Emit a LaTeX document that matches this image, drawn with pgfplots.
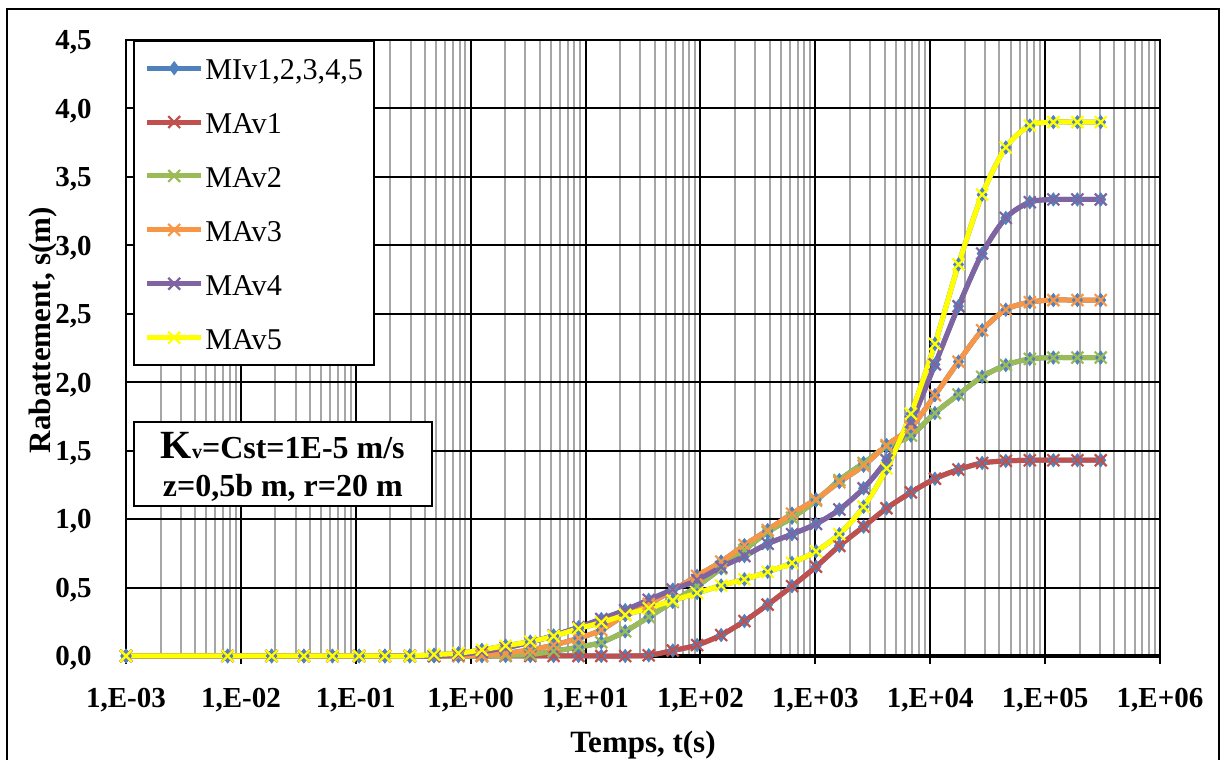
\documentclass[border=0pt]{standalone}
\usepackage{fontspec}
\setmainfont{Liberation Serif}
\usepackage{pgfplots}
\usepackage{pgfplotstable}
\pgfplotsset{compat=1.18}
\definecolor{cMI}{HTML}{4F81BD}
\definecolor{cA1}{HTML}{C0504D}
\definecolor{cA2}{HTML}{9BBB59}
\definecolor{cA3}{HTML}{F79646}
\definecolor{cA4}{HTML}{8064A2}
\definecolor{cA5}{HTML}{FFFF00}
\definecolor{cGrid}{HTML}{A6A6A6}

\pgfplotstableread{
t a1 a2 a3 a4 a5
0.001 0 0 0 0 0
0.00766 0 0 0 0 0
0.0185 0 0 0 0 0
0.0353 0 0 0 0 0
0.0627 0 0 0 0 0
0.107 0 0 0 0 0
0.179 0 0 0 0 0
0.295 0 0 0 0 0
0.480 0 0 0 0 0.01
0.782 0 0 0 0.01 0.02
1.253 0 0 0.005 0.03 0.045
2.014 0 0.005 0.02 0.06 0.075
3.304 0 0.01 0.045 0.10 0.105
5.272 0 0.035 0.08 0.15 0.145
8.69 0 0.065 0.13 0.21 0.20
13.71 0 0.10 0.19 0.27 0.245
22.13 0 0.18 0.30 0.335 0.30
35.48 0.005 0.285 0.38 0.41 0.35
57.41 0.04 0.395 0.48 0.485 0.405
93.54 0.08 0.51 0.585 0.555 0.46
151.4 0.153 0.64 0.69 0.65 0.515
241.5 0.255 0.775 0.81 0.73 0.56
384.6 0.375 0.905 0.92 0.82 0.615
626.6 0.51 1.01 1.04 0.89 0.68
1014 0.652 1.135 1.145 0.965 0.765
1618 0.805 1.285 1.27 1.07 0.89
2630 0.945 1.41 1.39 1.225 1.09
4169 1.079 1.53 1.54 1.43 1.37
6792 1.195 1.61 1.67 1.71 1.77
10990 1.295 1.775 1.905 2.13 2.28
17620 1.362 1.91 2.15 2.555 2.86
28310 1.41 2.04 2.38 2.94 3.37
45500 1.425 2.125 2.53 3.20 3.715
73620 1.43 2.17 2.585 3.315 3.875
118000 1.43 2.18 2.60 3.335 3.90
191000 1.43 2.18 2.60 3.335 3.90
304800 1.43 2.18 2.60 3.335 3.90
}\data

\begin{document}
\begin{tikzpicture}
\useasboundingbox (0,0) rectangle (613pt,380pt);
\draw[line width=1.2pt] (3.5pt,-3pt) -- (3.5pt,375.5pt) -- (609.5pt,375.5pt) -- (609.5pt,-3pt);
\begin{axis}[
  at={(63pt,52pt)}, anchor=south west,
  scale only axis, width=517pt, height=308pt,
  xmode=log, xmin=1e-3, xmax=1e6, ymin=0, ymax=4.5,
  xtick={1e-3,1e-2,1e-1,1,10,100,1000,1e4,1e5,1e6},
  xticklabels={{1,E-03},{1,E-02},{1,E-01},{1,E+00},{1,E+01},{1,E+02},{1,E+03},{1,E+04},{1,E+05},{1,E+06}},
  minor xtick={2e-3,3e-3,4e-3,5e-3,6e-3,7e-3,8e-3,9e-3,2e-2,3e-2,4e-2,5e-2,6e-2,7e-2,8e-2,9e-2,0.2,0.3,0.4,0.5,0.6,0.7,0.8,0.9,2,3,4,5,6,7,8,9,20,30,40,50,60,70,80,90,200,300,400,500,600,700,800,900,2000,3000,4000,5000,6000,7000,8000,9000,2e4,3e4,4e4,5e4,6e4,7e4,8e4,9e4,2e5,3e5,4e5,5e5,6e5,7e5,8e5,9e5},
  ytick={0,0.5,1,1.5,2,2.5,3,3.5,4,4.5},
  yticklabels={{0,0},{0,5},{1,0},{1,5},{2,0},{2,5},{3,0},{3,5},{4,0},{4,5}},
  xmajorgrids, ymajorgrids, xminorgrids,
  major grid style={black, line width=1pt},
  minor grid style={cGrid, line width=1pt},
  axis line style={black, line width=1pt},
  tick align=outside, major tick length=4pt, minor tick length=0pt,
  xtick pos=left, ytick pos=left,
  ytick style={draw=none},
  xtick style={black, line width=1pt},
  ticklabel style={font=\fontsize{14.5}{17}\selectfont\bfseries},
  /pgf/number format/assume math mode=true,
  xticklabel style={anchor=base, inner sep=0pt, yshift=-22pt},
  yticklabel style={anchor=base east, inner sep=0pt, xshift=-13pt, yshift=-4.9pt},
  clip=false,
  legend cell align=left,
  legend image code/.code={\draw[mark repeat=2,mark phase=2,#1] plot coordinates {(0pt,0pt) (13.5pt,0pt) (27pt,0pt)};},
  legend style={
    at={(0.0065,1)}, anchor=north west,
    draw=black, line width=1pt, fill=white,
    inner xsep=5.5pt, inner ysep=3pt,
    row sep=5.8pt, column sep=0.8pt,
    font=\fontsize{15.1}{17}\selectfont,
    nodes={inner sep=0pt, text height=16.3pt, text depth=4.85pt},
  },
  every axis plot/.append style={line width=2.5pt, smooth, tension=0.5},
]
\draw[line width=2pt] (rel axis cs:0,0) -- (rel axis cs:1,0);
\addplot[cMI, mark=diamond*, mark size=3.3pt, mark options={solid, fill=cMI, line width=0.4pt}] table[x=t,y=a1] {\data};
\addlegendentry{MIv1,2,3,4,5}
\addplot[cMI, forget plot, mark=diamond*, mark size=3.3pt, mark options={solid, fill=cMI, line width=0.4pt}] table[x=t,y=a2] {\data};
\addplot[cMI, forget plot, mark=diamond*, mark size=3.3pt, mark options={solid, fill=cMI, line width=0.4pt}] table[x=t,y=a3] {\data};
\addplot[cMI, forget plot, mark=diamond*, mark size=3.3pt, mark options={solid, fill=cMI, line width=0.4pt}] table[x=t,y=a4] {\data};
\addplot[cMI, forget plot, mark=diamond*, mark size=3.3pt, mark options={solid, fill=cMI, line width=0.4pt}] table[x=t,y=a5] {\data};
\addplot[cA1, mark=x, mark size=4.2pt, mark options={solid, line width=1.1pt}] table[x=t,y=a1] {\data};
\addlegendentry{MAv1}
\addplot[cA2, mark=x, mark size=4.2pt, mark options={solid, line width=1.1pt}] table[x=t,y=a2] {\data};
\addlegendentry{MAv2}
\addplot[cA3, mark=x, mark size=4.2pt, mark options={solid, line width=1.1pt}] table[x=t,y=a3] {\data};
\addlegendentry{MAv3}
\addplot[cA4, mark=x, mark size=4.2pt, mark options={solid, line width=1.1pt}] table[x=t,y=a4] {\data};
\addlegendentry{MAv4}
\addplot[cA5, mark=x, mark size=4.2pt, mark options={solid, line width=1.1pt}] table[x=t,y=a5] {\data};
\addlegendentry{MAv5}
\end{axis}
\draw[line width=1pt, fill=white] (67pt,127pt) rectangle (215.85pt,169.15pt);
\node[anchor=base, inner sep=0pt, font=\fontsize{16}{19}\selectfont\bfseries] at (141.4pt,150.85pt) {{\fontsize{20}{24}\selectfont K}{\fontsize{10}{12}\selectfont v}=Cst=1E-5 m/s};
\node[anchor=base, inner sep=0pt, font=\fontsize{16}{19}\selectfont\bfseries] at (141.4pt,131.65pt) {z=0,5b m, r=20 m};
\node[anchor=base, inner sep=0pt, font=\fontsize{15.5}{18}\selectfont\bfseries] at (321.5pt,3.5pt) {Temps, t(s)};
\node[anchor=base, rotate=90, inner sep=0pt, font=\fontsize{15.5}{18}\selectfont\bfseries] at (25pt,215pt) {Rabattement, s(m)};
\end{tikzpicture}
\end{document}
